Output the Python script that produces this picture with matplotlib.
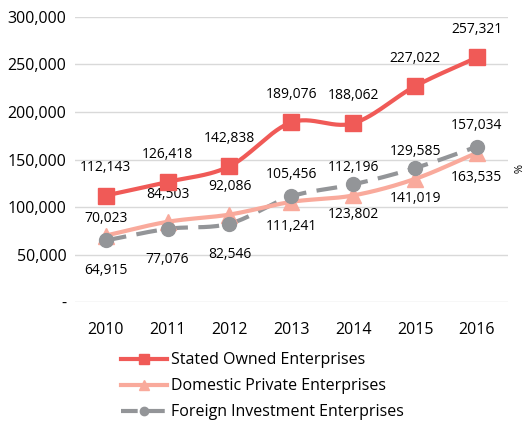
import matplotlib.pyplot as plt
from matplotlib.lines import Line2D
import numpy as np

years = ['2010', '2011', '2012', '2013', '2014', '2015', '2016']
state_owned = [112143, 126418, 142838, 189076, 188062, 227022, 257321]
domestic_private = [70023, 84503, 92086, 105456, 112196, 129585, 157034]
foreign_invest = [64915, 77076, 82546, 111241, 123802, 141019, 163535]

red = '#f05a57'
pink = '#f9aa9c'
grey = '#939598'

plt.rcParams['font.family'] = ['Open Sans', 'DejaVu Sans']


def smooth(y, n=30):
    # catmull-rom curve through the points, like excel's smoothed line
    y = np.asarray(y, dtype=float)
    x = np.arange(len(y), dtype=float)
    px = np.concatenate([[2 * x[0] - x[1]], x, [2 * x[-1] - x[-2]]])
    py = np.concatenate([[2 * y[0] - y[1]], y, [2 * y[-1] - y[-2]]])
    xs, ys = [], []
    t = np.linspace(0, 1, n)
    for i in range(1, len(px) - 2):
        for p, out in ((px, xs), (py, ys)):
            p0, p1, p2, p3 = p[i - 1], p[i], p[i + 1], p[i + 2]
            out.extend(0.5 * ((2 * p1) + (-p0 + p2) * t
                              + (2 * p0 - 5 * p1 + 4 * p2 - p3) * t ** 2
                              + (-p0 + 3 * p1 - 3 * p2 + p3) * t ** 3))
    return np.array(xs), np.array(ys)


fig = plt.figure(figsize=(5.23, 4.22), dpi=100)
ax = fig.add_axes([0.143, 0.284, 0.828, 0.676])

x = np.arange(len(years))

sx, sy = smooth(state_owned)
ax.plot(sx, sy, color=red, lw=3, zorder=3)
ax.plot(x, state_owned, 's', color=red, ms=11.5, zorder=4)

sx, sy = smooth(domestic_private)
ax.plot(sx, sy, color=pink, lw=3, zorder=3)
ax.plot(x, domestic_private, '^', color=pink, ms=11, zorder=4)

sx, sy = smooth(foreign_invest)
ax.plot(sx, sy, color=grey, lw=3, dashes=(5, 2.5), zorder=2)
ax.plot(x, foreign_invest, 'o', color=grey, ms=10, zorder=4)

for i in range(len(years)):
    ax.annotate(f'{state_owned[i]:,}', (x[i], state_owned[i]), xytext=(0, 20),
                textcoords='offset points', ha='center', va='center', fontsize=10)
    # first label sits a bit lower in the original
    up = 12 if i == 0 else 20
    ax.annotate(f'{domestic_private[i]:,}', (x[i], domestic_private[i]), xytext=(0, up),
                textcoords='offset points', ha='center', va='center', fontsize=10)
    ax.annotate(f'{foreign_invest[i]:,}', (x[i], foreign_invest[i]), xytext=(0, -22),
                textcoords='offset points', ha='center', va='center', fontsize=10)

ax.set_xlim(-0.5, len(years) - 0.5)
ax.set_ylim(0, 300000)
ax.set_xticks(x)
ax.set_xticklabels(years, fontsize=11.5)
yt = [0, 50000, 100000, 150000, 200000, 250000, 300000]
ax.set_yticks(yt)
ax.set_yticklabels(['-'] + [f'{v:,}' for v in yt[1:]], fontsize=11.5)
ax.tick_params(length=0, pad=6)
ax.tick_params(axis='x', pad=14)
ax.grid(axis='y', color='#d9d9d9', lw=1)
ax.set_axisbelow(True)
for s in ax.spines.values():
    s.set_visible(False)

fig.text(0.985, 0.6, '%', rotation=270, fontsize=8, ha='center', va='center')

handles = [
    Line2D([], [], color=red, lw=3, marker='s', ms=7),
    Line2D([], [], color=pink, lw=3, marker='^', ms=7),
    Line2D([], [], color=grey, lw=3, marker='o', ms=6, dashes=(4, 2.5)),
]
labels = ['Stated Owned Enterprises', 'Domestic Private Enterprises',
          'Foreign Investment Enterprises']
fig.legend(handles, labels, loc='upper left', bbox_to_anchor=(0.231, 0.165),
           frameon=False, fontsize=11.5, handlelength=2.9, handletextpad=0.25,
           labelspacing=0.62, borderpad=0, borderaxespad=0)

fig.savefig('out.png', dpi=100)
